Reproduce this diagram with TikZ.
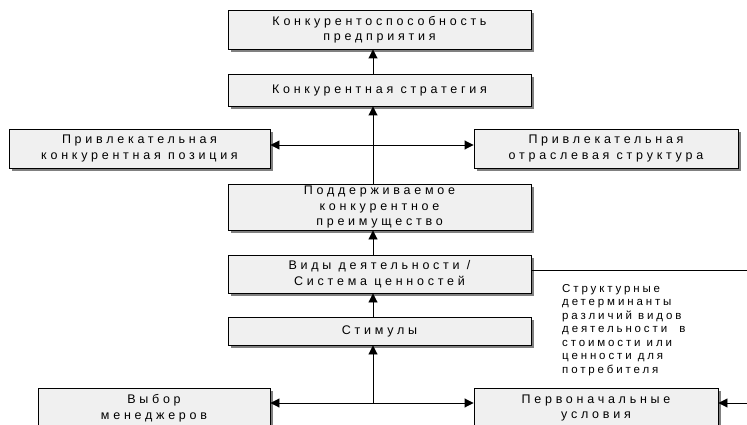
\documentclass[tikz,border=0pt]{standalone}
\usepackage{fontspec}
\setmainfont{Liberation Sans}
\newfontfamily\bfnt[LetterSpace=30]{Liberation Sans}
\newfontfamily\tfnt[LetterSpace=25]{Liberation Sans}
\usetikzlibrary{arrows.meta,shadows}
\begin{document}
\begin{tikzpicture}[x=1pt,y=-1pt,
  box/.style={draw=black, line width=0.9pt, fill=black!6, align=center, inner sep=0pt,
    font=\bfnt\fontsize{12.5}{15.5}\selectfont,
    drop shadow={shadow xshift=3pt, shadow yshift=-3pt, fill=black!50, opacity=1}},
  conn/.style={line width=0.9pt},
  arr/.style={conn, -{Triangle[width=9pt,length=9pt]}}]
\useasboundingbox (0,0) rectangle (747,425);
\clip (0,0) rectangle (747,425);
\node[box, minimum width=303pt, minimum height=39pt] (b1) at (379.5,29.5) {Конкурентоспособность\\предприятия};
\node[box, minimum width=303pt, minimum height=32pt] (b2) at (379.5,90) {Конкурентная стратегия};
\node[box, minimum width=261pt, minimum height=39pt] (bl) at (139.5,148.5) {Привлекательная\\конкурентная позиция};
\node[box, minimum width=264pt, minimum height=39pt] (br) at (606,148.5) {Привлекательная\\отраслевая структура};
\node[box, minimum width=303pt, minimum height=46pt] (b4) at (379.5,207) {Поддерживаемое\\конкурентное\\преимущество};
\node[box, minimum width=303pt, minimum height=38pt] (b5) at (379.5,274) {Виды деятельности /\\Система ценностей};
\node[box, minimum width=303pt, minimum height=28pt] (b6) at (379.5,331) {Стимулы};
\node[box, minimum width=232pt, minimum height=40pt] (bm) at (154,408) {Выбор\\менеджеров};
\node[box, minimum width=244pt, minimum height=40pt] (bp) at (596,408) {Первоначальные\\условия};
\node[anchor=north west, align=left, inner sep=0pt, font=\tfnt\fontsize{11.5}{13.5}\selectfont] (txt) at (562,284)
  {Структурные\\детерминанты\\различий видов\\деятельности \ в\\стоимости или\\ценности для\\потребителя};
\coordinate (sp) at (373,0);
\coordinate (jt) at (373,145);
\coordinate (jb) at (373,403);
\coordinate (re) at (747,270);
\coordinate (rb) at (747,403);
\draw[arr] (b2.north -| sp) -- (b1.south -| sp);
\draw[arr] (b4.north -| sp) -- (b2.south -| sp);
\draw[arr] (jt) -- (jt -| bl.east);
\draw[arr] (jt) -- (jt -| br.west);
\draw[arr] (b5.north -| sp) -- (b4.south -| sp);
\draw[arr] (b6.north -| sp) -- (b5.south -| sp);
\draw[arr] (jb) -- (b6.south -| sp);
\draw[arr] (jb) -- (jb -| bm.east);
\draw[arr] (jb) -- (jb -| bp.west);
\draw[arr] (rb) -- (rb -| bp.east);
\draw[conn] (b5.east |- re) -- (re);
\end{tikzpicture}
\end{document}
